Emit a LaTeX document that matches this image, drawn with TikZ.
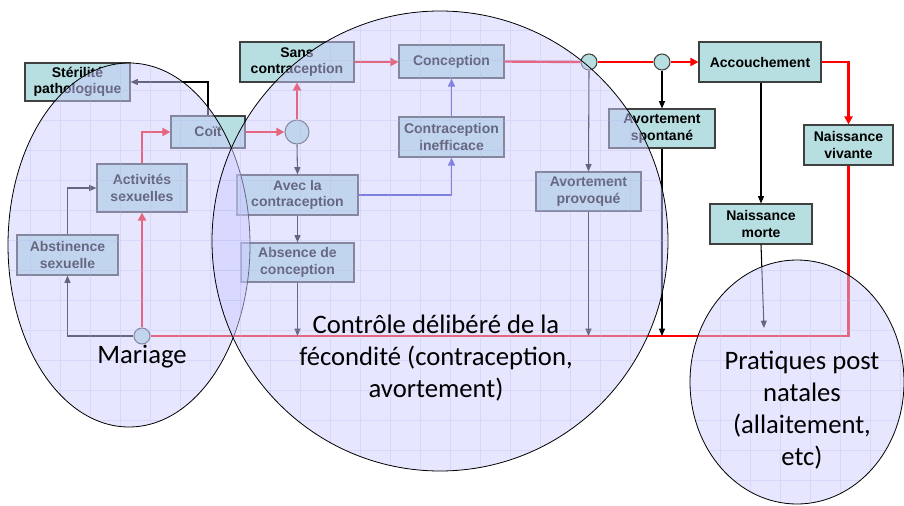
\documentclass[tikz,border=0pt]{standalone}
\usepackage{fontspec}
\usetikzlibrary{arrows.meta}
\newfontfamily\boxFont{Liberation Sans}
\newfontfamily\bigFont{Carlito}
\definecolor{tealFill}{RGB}{183,222,224}
\definecolor{lavFill}{RGB}{205,205,255}
\definecolor{gridLine}{RGB}{180,180,240}
\definecolor{blueLine}{RGB}{50,50,190}
%% A box given by its corners: style, name, x0, y0, x1, y1, text.
\newcommand{\myBox}[7]{%%
  \node[#1, minimum width={(#5-#3)*0.75pt}, minimum height={(#6-#4)*0.75pt}]
  (#2) at ({(#3+#5)/2},{(#4+#6)/2}) {#7};
}
%% A shaded ellipse with its grid: centre x, centre y, x radius, y radius.
\newcommand{\myEllipse}[4]{%%
  \begin{scope}
    \clip (#1,#2) ellipse[x radius=#3, y radius=#4];
    \fill[ellipseStyle] (0,0) rectangle (904,506);
    \draw[gridStyle] (0pt,0pt) grid (678pt,-379.5pt);
  \end{scope}
  \draw[black, line width=0.6pt] (#1,#2) ellipse[x radius=#3, y radius=#4];
}

\begin{document}
\begin{tikzpicture}[x=0.75pt,y=-0.75pt,%%
  boxStyle/.style={draw=black!75,line width=0.8pt,fill=tealFill,inner sep=1pt,
    align=center,font=\boxFont\bfseries\fontsize{10.5}{12.4}\selectfont},%%
  dotStyle/.style={circle,draw=black!75,line width=0.8pt,fill=tealFill,inner sep=0pt},%%
  redLine/.style={red,line width=1.8pt},%%
  redArrow/.style={redLine,-{Triangle[length=6pt,width=6pt]}},%%
  blackArrow/.style={black,line width=0.8pt,-{Triangle[length=5.5pt,width=4.5pt]}},%%
  blueArrow/.style={blueLine,line width=1.4pt,-{Triangle[length=6pt,width=5pt]}},%%
  ellipseStyle/.style={fill=lavFill,fill opacity=0.5},%%
  gridStyle/.style={gridLine,line width=0.4pt,opacity=0.3,step=22.5pt},%%
  bigText/.style={font=\bigFont\fontsize{20}{24}\selectfont,align=center}
]
\useasboundingbox (0,0) rectangle (904,506);
%%
%% Boxes of the left part.
\myBox{boxStyle}{steril}{25}{63}{130}{101}{Stérilité\\pathologique}
\myBox{boxStyle}{coit}{171}{116}{245}{148}{Coït}
\myBox{boxStyle}{actSex}{97}{164}{187}{212}{Activités\\sexuelles}
\myBox{boxStyle}{abst}{17}{235}{118}{275}{Abstinence\\sexuelle}
\node[dotStyle,minimum size=12pt] (mar) at (142,336) {};
%%
%% Boxes of the middle part.
\node[dotStyle,minimum size=18pt] (hub) at (297,132) {};
\myBox{boxStyle}{sans}{240}{42}{354}{82}{Sans\\contraception}
\myBox{boxStyle}{concep}{399}{45}{504}{78}{Conception}
\myBox{boxStyle}{avec}{237}{175}{358}{215}{Avec la\\contraception}
\myBox{boxStyle}{ineff}{399}{117}{504}{157}{Contraception\\inefficace}
\myBox{boxStyle}{absence}{241}{243}{354}{282}{Absence de\\conception}
\myBox{boxStyle}{provoq}{536}{172}{641}{211}{Avortement\\provoqué}
%%
%% Boxes of the right part.
\node[dotStyle,minimum size=12pt] (c1) at (589,62) {};
\node[dotStyle,minimum size=12pt] (c2) at (662,62) {};
\myBox{boxStyle}{spont}{609}{109}{715}{148}{Avortement\\spontané}
\myBox{boxStyle}{accouch}{699}{42}{821}{82}{Accouchement}
\myBox{boxStyle}{vivante}{804}{125}{893}{165}{Naissance\\vivante}
\myBox{boxStyle}{morte}{710}{204}{812}{244}{Naissance\\morte}
\coordinate (pratEnd) at (764,328);
%%
%% Connectors.
\draw[redLine] (vivante.south) |- (mar.east);
\draw[redArrow] (mar.north) -- (actSex.south);
\draw[blackArrow] (mar.west) -| (abst.south);
\draw[blackArrow] (abst.north) |- (actSex.west);
\draw[redArrow] (actSex.north) |- (coit.west);
\draw[blackArrow] (coit.north) |- (steril.east);
\draw[redArrow] (coit.east) -- (hub.west);
\draw[redArrow] (hub.north) -- (sans.south);
\draw[blackArrow] (hub.south) -- (avec.north);
\draw[redArrow] (sans.east) -- (sans.east -| concep.west);
\draw[blueArrow] (avec.east) -| (ineff.south);
\draw[blueArrow] (ineff.north) -- (concep.south);
\draw[blackArrow] (avec.south) -- (absence.north);
\draw[blackArrow] (absence.south) -- (absence.south |- mar);
\draw[redLine] (concep.east) -- (c1.west);
\draw[redLine] (c1.east) -- (c2.west);
\draw[redArrow] (c2.east) -- (accouch.west);
\draw[blackArrow] (c1.south) -- (provoq.north);
\draw[blackArrow] (provoq.south) -- (provoq.south |- mar);
\draw[blackArrow] (c2.south) -- (spont.north);
\draw[blackArrow] (spont.south) -- (spont.south |- mar);
\draw[blackArrow] (accouch.south -| morte.north) -- (morte.north);
\draw[redArrow] (accouch.east) -| (vivante.north);
\draw[blackArrow] (morte.south) -- (pratEnd);
%%
%% Shaded ellipses laid over the flow.
\myEllipse{129}{245}{121}{182}
\myEllipse{440}{241}{228}{230}
\myEllipse{797}{382}{107}{122}
%%
%% Labels of the ellipses.
\node[bigText] (mariageText) at (142,357) {Mariage};
\node[bigText] (controleText) at (436,358)
  {Contrôle délibéré de la\\fécondité (contraception,\\avortement)};
\node[bigText] (pratText) at (802,410)
  {Pratiques post\\natales\\(allaitement,\\etc)};

\end{tikzpicture}
\end{document}
